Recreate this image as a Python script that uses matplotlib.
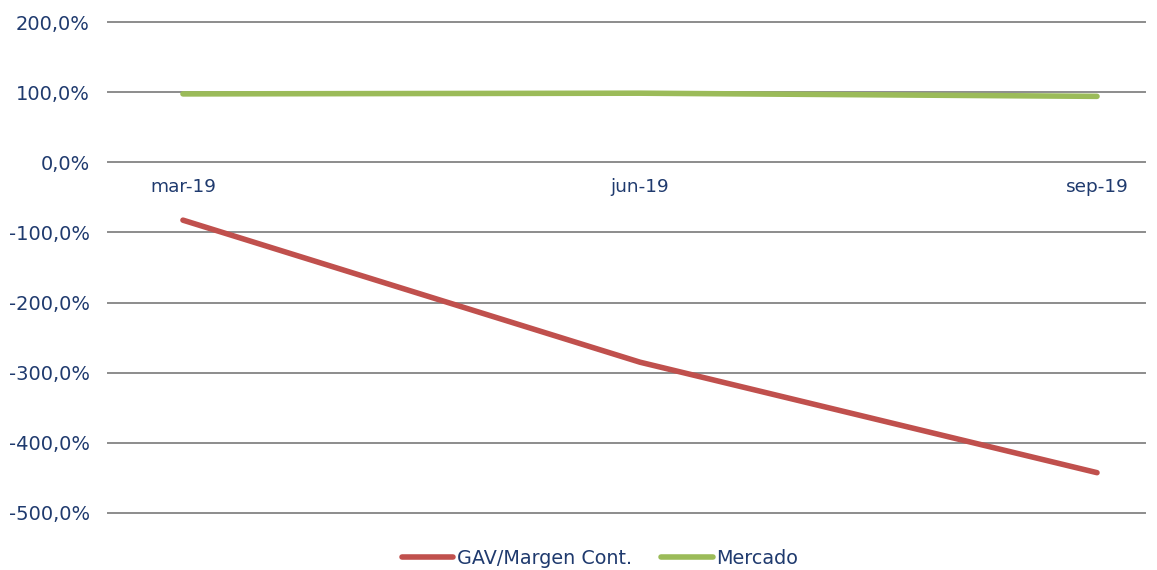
import matplotlib.pyplot as plt

# data
fechas = ["mar-19", "jun-19", "sep-19"]
gav_margen = [-82.5, -285.0, -442.5]
mercado = [97.5, 98.5, 94.0]
y_ticks = [200, 100, 0, -100, -200, -300, -400, -500]

azul = "#1F3A6E"
rojo = "#C0504D"
verde = "#9BBB59"

fig = plt.figure(figsize=(11.57, 5.70), dpi=100)
ax = fig.add_axes([108 / 1157, 57 / 570, (1145 - 108) / 1157, (513 - 22) / 570])

x = range(len(fechas))
ax.plot(x, gav_margen, color=rojo, lw=4, solid_capstyle="round", label="GAV/Margen Cont.", zorder=3)
ax.plot(x, mercado, color=verde, lw=4, solid_capstyle="round", label="Mercado", zorder=3)

ax.set_xlim(-0.164, 2.105)
ax.set_ylim(-500, 200)

# horizontal gridlines
for t in y_ticks:
    ax.axhline(t, color="#8C8C8C", lw=1.4, clip_on=False, zorder=1)

for s in ax.spines.values():
    s.set_visible(False)

ax.set_yticks(y_ticks)
ax.set_yticklabels([f"{t:.1f}%".replace(".", ",") for t in y_ticks])
ax.tick_params(axis="y", length=0, pad=13, labelsize=14, labelcolor=azul)
ax.set_xticks([])

# category labels sit just under the zero line
for i, f in enumerate(fechas):
    ax.annotate(f, (i, 0), xytext=(0, -18), textcoords="offset points",
                ha="center", va="center", fontsize=13.3, color=azul)

# legend sits at the very bottom edge, as in the reference
leg = fig.legend(loc="center", bbox_to_anchor=(600 / 1157, 1 - 558 / 570), ncol=2,
                 frameon=False, fontsize=13.8, handlelength=2.7, handletextpad=0.2,
                 columnspacing=1.5, borderpad=0.1)
for t in leg.get_texts():
    t.set_color(azul)

fig.savefig("out.png", dpi=100)
